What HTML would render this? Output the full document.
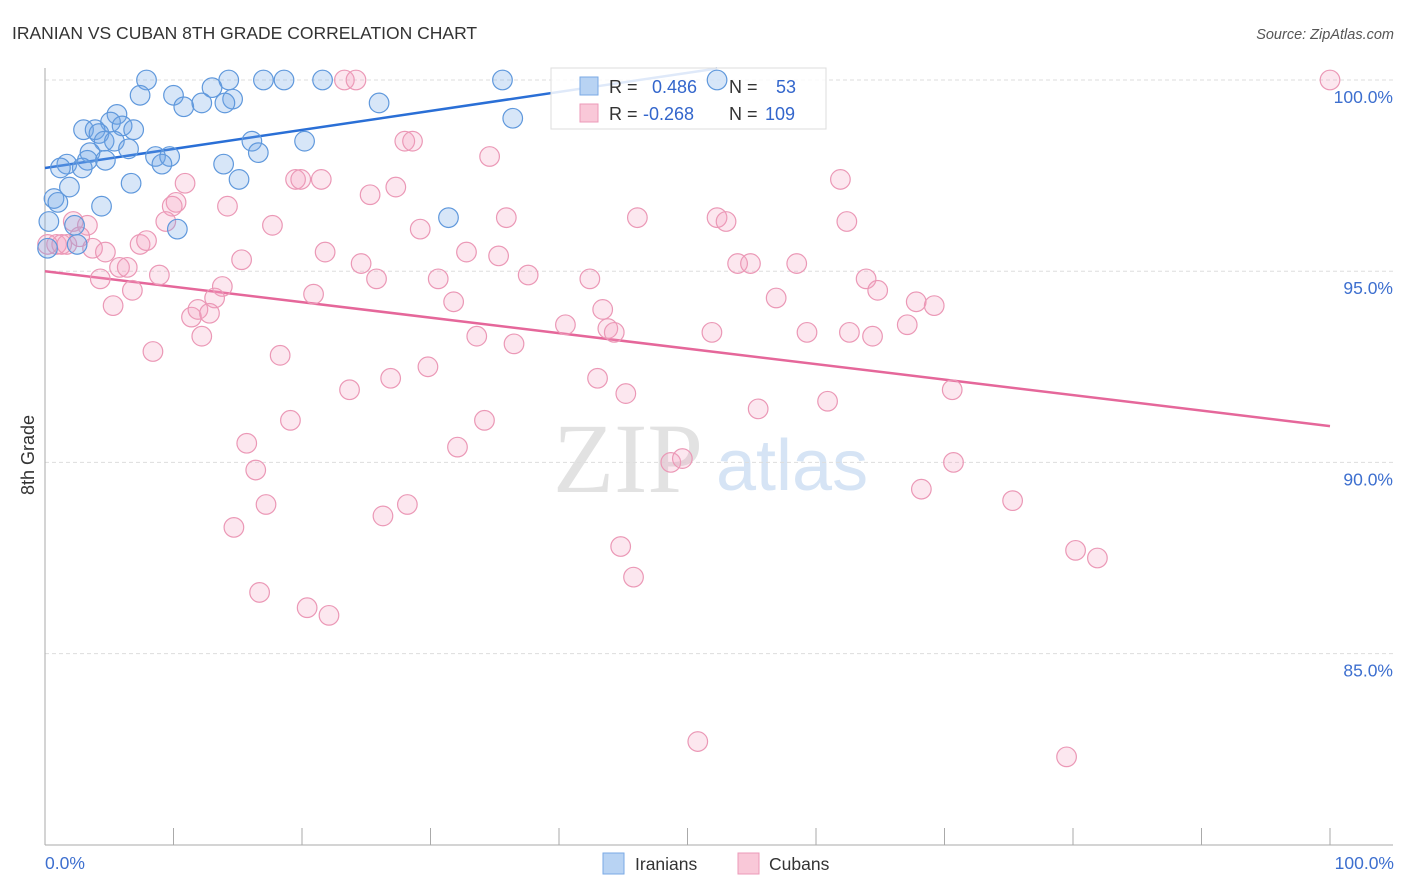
<!DOCTYPE html>
<html><head><meta charset="utf-8"><style>
body{margin:0;background:#fff;font-family:"Liberation Sans",sans-serif}
svg{display:block}
</style></head><body>
<svg width="1406" height="892" xmlns="http://www.w3.org/2000/svg">
<text x="12" y="39" font-size="17.5" fill="#333">IRANIAN VS CUBAN 8TH GRADE CORRELATION CHART</text>
<text x="1394" y="39" font-size="14.5" fill="#555" font-style="italic" text-anchor="end">Source: ZipAtlas.com</text>
<g>
<text x="553" y="492" font-size="100" font-family="Liberation Serif" fill="#e2e2e2">ZIP</text>
<text x="716" y="490" font-size="72" fill="#d6e4f5">atlas</text>
</g>
<g id="grid"></g>
<g id="axes"></g>
<g id="lines"></g>
<g>
<rect x="551" y="68" width="275" height="61" fill="rgba(255,255,255,0.85)" stroke="#ddd"/>
<rect x="580" y="77" width="18" height="18" fill="#b8d3f3" stroke="#7aaae6"/>
<rect x="580" y="104" width="18" height="18" fill="#f9c8d8" stroke="#ec9ab8"/>
<text x="609" y="93" font-size="18" fill="#333">R = </text><text x="652" y="93" font-size="18" fill="#3366cc">0.486</text>
<text x="729" y="93" font-size="18" fill="#333">N = </text><text x="776" y="93" font-size="18" fill="#3366cc">53</text>
<text x="609" y="120" font-size="18" fill="#333">R = </text><text x="643" y="120" font-size="18" fill="#3366cc">-0.268</text>
<text x="729" y="120" font-size="18" fill="#333">N = </text><text x="765" y="120" font-size="18" fill="#3366cc">109</text>
</g>
<g id="pts"></g>
<text transform="translate(34,455) rotate(-90)" font-size="18" fill="#333" text-anchor="middle">8th Grade</text>
<g>
<rect x="603" y="853" width="21" height="21" fill="#b8d3f3" stroke="#7aaae6"/>
<text x="635" y="870" font-size="17.5" fill="#333">Iranians</text>
<rect x="738" y="853" width="21" height="21" fill="#f9c8d8" stroke="#ec9ab8"/>
<text x="769" y="870" font-size="17.5" fill="#333">Cubans</text>
</g>
</svg>
<script>
const yTicks=[100,95,90,85];
const yTickLabels=["100.0%","95.0%","90.0%","85.0%"];
const iranX=[7.9,14.3,17.0,18.6,21.6,35.6,52.3,13.0,7.4,10.0,14.6,10.8,12.2,14.0,26.0,5.6,5.1,6.0,36.4,3.0,3.9,4.2,6.9,4.6,5.4,20.2,6.5,3.5,16.1,16.6,8.6,9.7,9.1,3.3,4.7,1.7,1.2,2.9,13.9,1.9,6.7,15.1,0.7,1.0,4.4,0.3,2.3,31.4,10.3,2.5,0.2];
const iranY=[100,100,100,100,100,100,100,99.8,99.6,99.6,99.5,99.3,99.4,99.4,99.4,99.1,98.9,98.8,99.0,98.7,98.7,98.6,98.7,98.4,98.4,98.4,98.2,98.1,98.4,98.1,98.0,98.0,97.8,97.9,97.9,97.8,97.7,97.7,97.8,97.2,97.3,97.4,96.9,96.8,96.7,96.3,96.2,96.4,96.1,95.7,95.6];
const cubaX=[100,23.3,24.2,28.0,28.6,34.6,61.9,10.9,19.5,19.9,21.5,25.3,27.3,14.2,10.2,9.9,2.2,3.3,9.4,17.7,29.2,35.9,46.1,52.3,53.0,62.4,2.7,7.4,7.9,0.9,1.3,0.2,1.7,3.7,4.7,21.8,32.8,35.3,15.3,24.6,53.9,54.9,58.5,5.8,6.4,8.9,4.3,25.8,30.6,37.6,42.4,63.9,6.8,13.8,5.3,13.2,20.9,31.8,43.4,56.9,64.8,67.8,69.2,11.4,11.9,12.8,40.5,43.8,44.3,51.9,59.3,62.6,64.4,67.1,12.2,33.6,36.5,8.4,18.3,29.8,26.9,43.0,23.7,45.2,70.6,55.5,60.9,19.1,34.2,15.7,32.1,16.4,48.7,49.6,70.7,17.2,28.2,26.3,68.2,75.3,14.7,44.8,80.2,81.9,45.8,16.7,20.4,22.1,50.8,79.5];
const cubaY=[100,100,100,98.4,98.4,98.0,97.4,97.3,97.4,97.4,97.4,97.0,97.2,96.7,96.8,96.7,96.3,96.2,96.3,96.2,96.1,96.4,96.4,96.4,96.3,96.3,95.9,95.7,95.8,95.7,95.7,95.7,95.7,95.6,95.5,95.5,95.5,95.4,95.3,95.2,95.2,95.2,95.2,95.1,95.1,94.9,94.8,94.8,94.8,94.9,94.8,94.8,94.5,94.6,94.1,94.3,94.4,94.2,94.0,94.3,94.5,94.2,94.1,93.8,94.0,93.9,93.6,93.5,93.4,93.4,93.4,93.4,93.3,93.6,93.3,93.3,93.1,92.9,92.8,92.5,92.2,92.2,91.9,91.8,91.9,91.4,91.6,91.1,91.1,90.5,90.4,89.8,90.0,90.1,90.0,88.9,88.9,88.6,89.3,89.0,88.3,87.8,87.7,87.5,87.0,86.6,86.2,86.0,82.7,82.3];
const iranTrend=[[0,97.7],[52.3,100.3]];
const cubaTrend=[[0,95.0],[100,90.95]];
const NS="http://www.w3.org/2000/svg";
const X=v=>45+v*12.85, Y=v=>80+(100-v)*38.24;
function mk(tag,attrs,parent){const e=document.createElementNS(NS,tag);for(const k in attrs)e.setAttribute(k,attrs[k]);parent.appendChild(e);return e;}
const grid=document.getElementById('grid'),axes=document.getElementById('axes'),pts=document.getElementById('pts'),lines=document.getElementById('lines');
yTicks.forEach((t,i)=>{
 const l=mk('line',{x1:45,x2:1393,y1:Y(t),y2:Y(t),stroke:'#ddd','stroke-dasharray':'4,3'},grid);
 
 
 const tx=mk('text',{x:1393,y:Y(t)+23,'font-size':17.5,fill:'#3d6fcf','text-anchor':'end'},grid);
 tx.textContent=yTickLabels[i];
 
 
});
mk('line',{x1:45,x2:45,y1:68,y2:845,stroke:'#aaa'},axes);
mk('line',{x1:45,x2:1393,y1:845,y2:845,stroke:'#aaa'},axes);
for(let i=0;i<=10;i++){const t=mk('line',{x1:X(i*10),x2:X(i*10),y1:828,y2:845,stroke:'#aaa'},axes);
 
 }
const xl0=mk('text',{x:45,y:869,'font-size':17.5,fill:'#3d6fcf'},axes);xl0.textContent='0.0%';


const xl1=mk('text',{x:1394,y:869,'font-size':17.5,fill:'#3d6fcf','text-anchor':'end'},axes);xl1.textContent='100.0%';


cubaX.forEach((x,i)=>{const c=mk('circle',{cx:X(x),cy:Y(cubaY[i]),r:9.8,fill:'rgba(243,160,190,0.25)',stroke:'#eb98b6','stroke-width':1.2},pts);
 
 });
iranX.forEach((x,i)=>{const c=mk('circle',{cx:X(x),cy:Y(iranY[i]),r:9.8,fill:'rgba(110,165,230,0.28)',stroke:'#5f98dc','stroke-width':1.2},pts);
 
 });
const l1=mk('line',{x1:X(iranTrend[0][0]),y1:Y(iranTrend[0][1]),x2:X(iranTrend[1][0]),y2:Y(iranTrend[1][1]),stroke:'#2a6fd6','stroke-width':2.5},lines);


const l2=mk('line',{x1:X(cubaTrend[0][0]),y1:Y(cubaTrend[0][1]),x2:X(cubaTrend[1][0]),y2:Y(cubaTrend[1][1]),stroke:'#e5679a','stroke-width':2.5},lines);


</script>
</body></html>
